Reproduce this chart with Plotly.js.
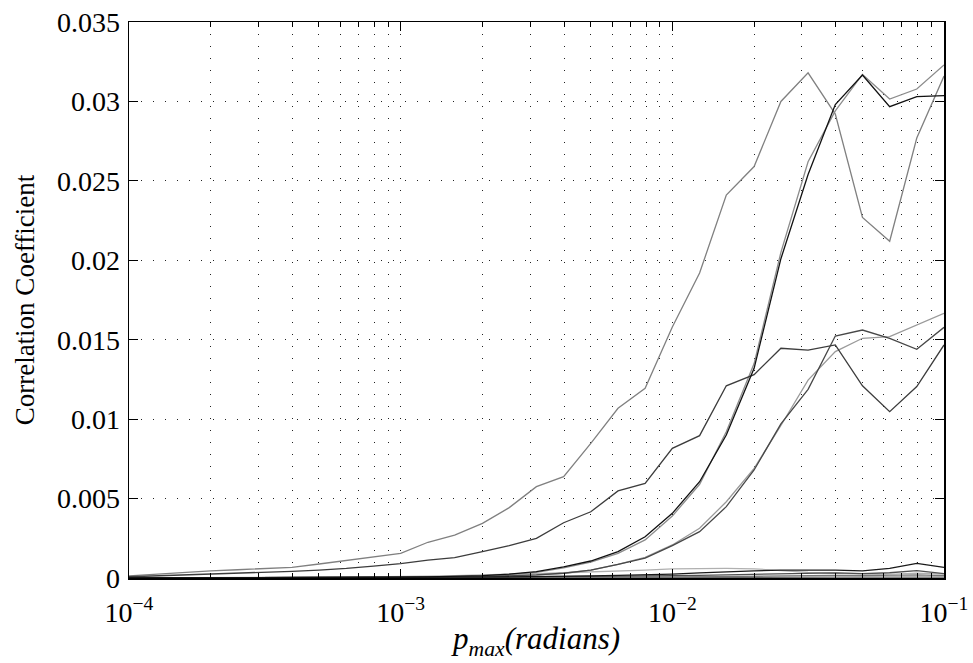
<!DOCTYPE html>
<html>
<head>
<meta charset="utf-8">
<script src="https://cdn.plot.ly/plotly-3.0.1.min.js"></script>
<style>
  html, body { margin: 0; padding: 0; background: #fff; }
  #chart { width: 973px; height: 663px; }
</style>
</head>
<body>
<div id="chart"></div>
<script>
// x positions (p_max, radians), 0.1-decade steps from 1e-4 to 1e-1
const pMax = [0.0001, 0.000126, 0.000158, 0.0002, 0.000251, 0.000316, 0.000398, 0.000501, 0.000631, 0.000794,
              0.001, 0.00126, 0.00158, 0.002, 0.00251, 0.00316, 0.00398, 0.00501, 0.00631, 0.00794,
              0.01, 0.0126, 0.0158, 0.02, 0.0251, 0.0316, 0.0398, 0.0501, 0.0631, 0.0794, 0.1];

const seriesA = [0.00013, 0.00024, 0.00035, 0.00045, 0.00052, 0.00058, 0.00067, 0.00088, 0.0011, 0.00134,
                 0.00155, 0.00225, 0.0027, 0.00344, 0.00443, 0.00575, 0.00638, 0.00848, 0.01068, 0.01194,
                 0.0158, 0.0192, 0.0241, 0.0259, 0.0300, 0.0318, 0.0292, 0.0227, 0.0212, 0.0277, 0.0316];
const seriesB = [0.00001, 0.00001, 0.00001, 0.00001, 0.00002, 0.00002, 0.00002, 0.00003, 0.00003, 0.00004,
                 0.00005, 0.00007, 0.0001, 0.00015, 0.00025, 0.0004, 0.0007, 0.00107, 0.00166, 0.0026,
                 0.00407, 0.00606, 0.009, 0.0132, 0.0201, 0.0254, 0.0298, 0.03166, 0.02967, 0.0303, 0.03036];
const seriesC = [0.00001, 0.00001, 0.00001, 0.00001, 0.00001, 0.00002, 0.00002, 0.00002, 0.00003, 0.00003,
                 0.00004, 0.00006, 0.00009, 0.00013, 0.00022, 0.00036, 0.00064, 0.001, 0.00155, 0.0024,
                 0.0039, 0.0059, 0.0092, 0.0135, 0.0205, 0.0262, 0.0294, 0.0317, 0.03015, 0.03078, 0.0323];
const seriesD = [0.00008, 0.00013, 0.0002, 0.00025, 0.0003, 0.00036, 0.00042, 0.0005, 0.0006, 0.00075,
                 0.0009, 0.00113, 0.00128, 0.00166, 0.00204, 0.0025, 0.00348, 0.00417, 0.00548, 0.00596,
                 0.00816, 0.00896, 0.0121, 0.0128, 0.01446, 0.01435, 0.01467, 0.0121, 0.01047, 0.01205, 0.01467];
const seriesE = [0.00001, 0.00001, 0.00001, 0.00001, 0.00001, 0.00001, 0.00001, 0.00002, 0.00002, 0.00002,
                 0.00003, 0.00004, 0.00005, 0.00008, 0.00012, 0.0002, 0.0003, 0.0005, 0.00086, 0.00125,
                 0.00204, 0.00292, 0.00449, 0.0068, 0.0097, 0.01188, 0.01523, 0.01561, 0.01509, 0.0144, 0.01578];
const seriesF = [0.00001, 0.00001, 0.00001, 0.00001, 0.00001, 0.00001, 0.00001, 0.00002, 0.00002, 0.00002,
                 0.00003, 0.00004, 0.00005, 0.00008, 0.00012, 0.0002, 0.0003, 0.0005, 0.00086, 0.0013,
                 0.00208, 0.00313, 0.0048, 0.0069, 0.0096, 0.01246, 0.01425, 0.01509, 0.01519, 0.01593, 0.01666];
const seriesG = [0.00001, 0.00001, 0.00002, 0.00002, 0.00003, 0.00003, 0.00004, 0.00005, 0.00006, 0.00007,
                 0.00008, 0.00011, 0.00015, 0.00018, 0.00022, 0.00028, 0.00033, 0.00038, 0.00042, 0.0005,
                 0.00057, 0.0006, 0.0006, 0.00058, 0.00045, 0.00035, 0.0003, 0.00025, 0.00022, 0.0003, 0.00025];
const seriesH = [0.00001, 0.00001, 0.00001, 0.00001, 0.00001, 0.00002, 0.00002, 0.00002, 0.00003, 0.00003,
                 0.00004, 0.00004, 0.00005, 0.00006, 0.00007, 0.00008, 0.0001, 0.00013, 0.00017, 0.0002,
                 0.00025, 0.00032, 0.0004, 0.00045, 0.0005, 0.0005, 0.0005, 0.00045, 0.0006, 0.00092, 0.00067];
const seriesI = [0.00001, 0.00001, 0.00001, 0.00001, 0.00001, 0.00001, 0.00002, 0.00002, 0.00002, 0.00003,
                 0.00003, 0.00004, 0.00004, 0.00005, 0.00006, 0.00007, 0.00008, 0.00009, 0.0001, 0.00011,
                 0.00012, 0.00016, 0.0002, 0.00024, 0.00028, 0.0003, 0.00032, 0.00028, 0.00033, 0.00046, 0.00028];
const seriesJ = [0.00001, 0.00001, 0.00001, 0.00001, 0.00001, 0.00001, 0.00001, 0.00001, 0.00002, 0.00002,
                 0.00002, 0.00002, 0.00002, 0.00003, 0.00003, 0.00003, 0.00004, 0.00004, 0.00005, 0.00005,
                 0.00006, 0.00008, 0.0001, 0.00012, 0.00013, 0.00015, 0.00016, 0.00015, 0.00017, 0.0002, 0.00015];
const seriesK = [0.00001, 0.00001, 0.00001, 0.00001, 0.00001, 0.00001, 0.00001, 0.00001, 0.00001, 0.00001,
                 0.00001, 0.00001, 0.00001, 0.00001, 0.00002, 0.00002, 0.00002, 0.00002, 0.00002, 0.00003,
                 0.00003, 0.00003, 0.00004, 0.00004, 0.00005, 0.00005, 0.00005, 0.00006, 0.00006, 0.00007, 0.00006];

const xTickVals = [0.0001, 0.001, 0.01, 0.1];
const xTickText = ['10<sup>\u22124</sup>', '10<sup>\u22123</sup>', '10<sup>\u22122</sup>', '10<sup>\u22121</sup>'];
const yTickVals = [0, 0.005, 0.01, 0.015, 0.02, 0.025, 0.03, 0.035];
const yTickText = ['0', '0.005', '0.01', '0.015', '0.02', '0.025', '0.03', '0.035'];

const seriesList = [
  {y: seriesK, color: '#666666'},
  {y: seriesJ, color: '#777777'},
  {y: seriesG, color: '#b0b0b0'},
  {y: seriesI, color: '#505050'},
  {y: seriesF, color: '#9a9a9a'},
  {y: seriesA, color: '#808080'},
  {y: seriesC, color: '#8c8c8c'},
  {y: seriesE, color: '#474747'},
  {y: seriesD, color: '#3c3c3c'},
  {y: seriesH, color: '#1a1a1a'},
  {y: seriesB, color: '#111111'}
];

const traces = seriesList.map(s => ({
  x: pMax, y: s.y, type: 'scatter', mode: 'lines',
  line: {color: s.color, width: 1.3},
  hoverinfo: 'skip', showlegend: false
}));

const family = '"Liberation Serif", "Times New Roman", serif';
const tickFont = {family: family, size: 28, color: '#000'};
const yTitleFont = {family: family, size: 27, color: '#000'};
const xTitleFont = {family: family, size: 31, color: '#000'};
const gridDash = '1px,11px';

const layout = {
  width: 973, height: 663,
  margin: {l: 129, r: 29, t: 22, b: 85},
  paper_bgcolor: '#fff', plot_bgcolor: '#fff',
  font: tickFont,
  showlegend: false,
  xaxis: {
    type: 'log', range: [-4, -1],
    tickmode: 'array', tickvals: xTickVals, ticktext: xTickText,
    ticks: 'inside', ticklen: 9, tickwidth: 1, tickcolor: '#000',
    showline: true, linecolor: '#000', linewidth: 1.5, mirror: 'ticks',
    showgrid: true, gridcolor: '#222', gridwidth: 1, griddash: gridDash,
    zeroline: false,
    tickfont: tickFont, ticklabelstandoff: 9,
    minor: {dtick: 'D1', ticks: 'inside', ticklen: 5, tickcolor: '#000', tickwidth: 1,
            showgrid: true, gridcolor: '#222', gridwidth: 1, griddash: gridDash},
    title: {text: '<i>p</i><sub><i>max</i></sub><i>(radians)</i>', font: xTitleFont, standoff: 0}
  },
  yaxis: {
    range: [0, 0.035],
    tickmode: 'array', tickvals: yTickVals, ticktext: yTickText,
    ticks: 'inside', ticklen: 9, tickwidth: 1, tickcolor: '#000',
    showline: true, linecolor: '#000', linewidth: 1.5, mirror: 'ticks',
    showgrid: true, gridcolor: '#222', gridwidth: 1, griddash: gridDash,
    zeroline: false,
    tickfont: tickFont, ticklabelstandoff: 2,
    title: {text: 'Correlation Coefficient', font: yTitleFont, standoff: 14}
  }
};

Plotly.newPlot('chart', traces, layout, {displayModeBar: false, staticPlot: true});
</script>
</body>
</html>
